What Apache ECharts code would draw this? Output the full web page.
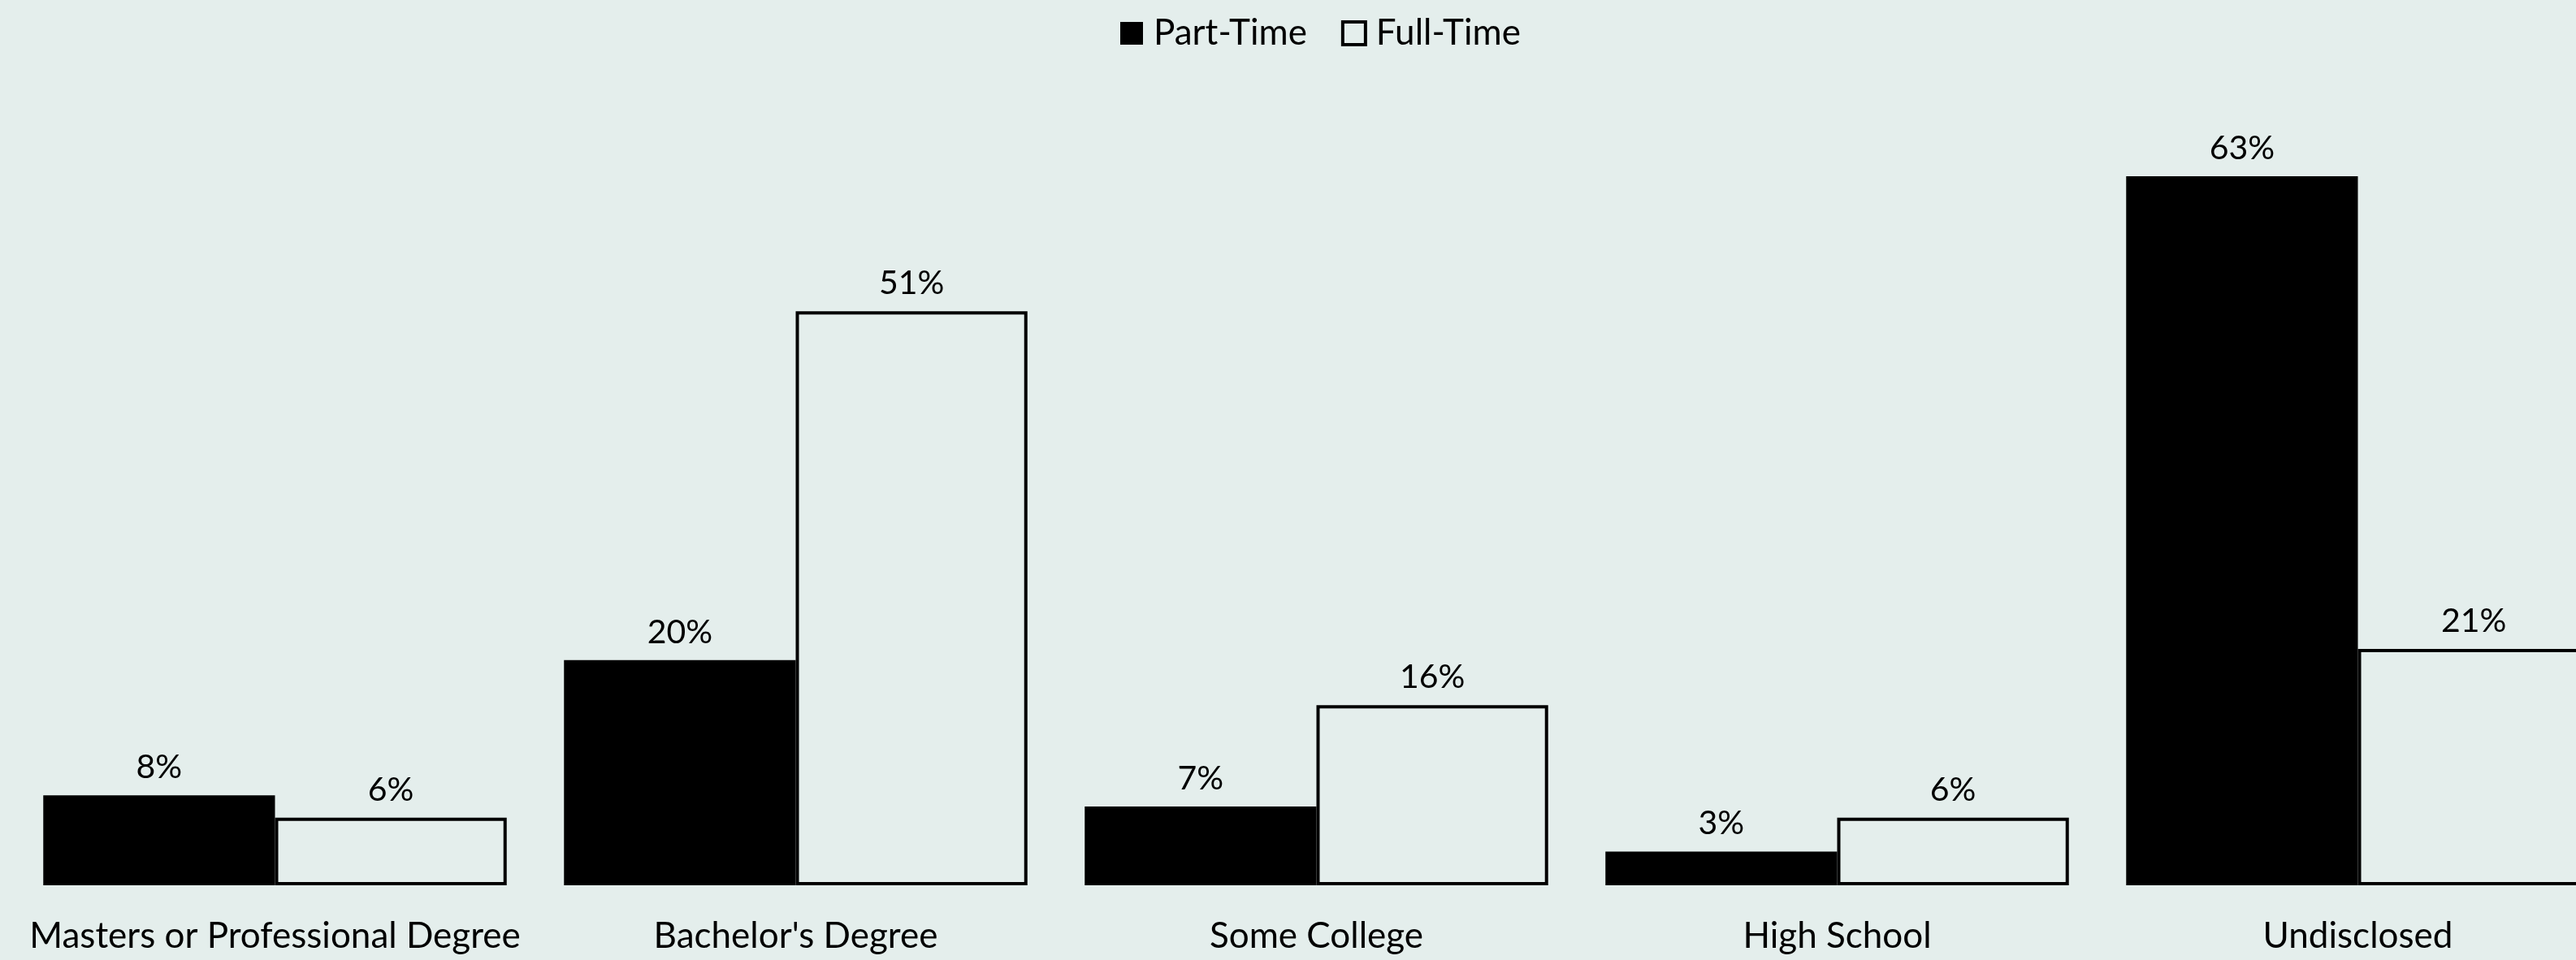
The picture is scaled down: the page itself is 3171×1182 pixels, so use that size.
<!DOCTYPE html>
<html>
<head>
<meta charset="utf-8">
<script src="https://cdn.jsdelivr.net/npm/echarts@6/dist/echarts.min.js"></script>
<style>
  html, body { margin: 0; padding: 0; background: #e4eeec; }
  #chart { width: 3171px; height: 1182px; }
</style>
</head>
<body>
<div id="chart"></div>
<script>
// categories and values (percent)
var categories = ["Masters or Professional Degree", "Bachelor's Degree", "Some College", "High School", "Undisclosed"];
var partTime = [8, 20, 7, 3, 63];
var fullTime = [6, 51, 16, 6, 21];

var chart = echarts.init(document.getElementById("chart"));
var font = "Lato, 'Open Sans', sans-serif";

var option = {
  backgroundColor: "#e4eeec",
  animation: false,
  legend: {
    top: 14,
    left: 1374,
    itemWidth: 28,
    itemHeight: 28,
    itemGap: 42,
    icon: "rect",
    textStyle: { fontFamily: font, fontSize: 44, color: "#000", padding: [0, 0, 0, 8] },
    data: [
      { name: "Part-Time" },
      { name: "Full-Time", itemStyle: { borderWidth: 4, borderColor: "#000" } },
    ],
  },
  grid: {
    left: 18,
    right: -52,
    top: 120,
    bottom: 92,
    outerBoundsMode: "none",
    containLabel: false,
  },
  xAxis: {
    type: "category",
    data: categories,
    axisLine: { show: false },
    axisTick: { show: false },
    axisLabel: {
      fontFamily: font,
      fontSize: 44,
      color: "#000",
      margin: 41,
      interval: 0,
    },
  },
  yAxis: {
    type: "value",
    min: 0,
    max: 70,
    show: false,
    splitLine: { show: false },
  },
  series: [
    {
      name: "Part-Time",
      type: "bar",
      data: partTime,
      barGap: "0%",
      barCategoryGap: "11%",
      itemStyle: { color: "#000", borderColor: "#000", borderWidth: 0 },
      label: {
        show: true,
        position: "top",
        distance: 14,
        formatter: "{c}%",
        fontFamily: font,
        fontSize: 41,
        color: "#000",
      },
    },
    {
      name: "Full-Time",
      type: "bar",
      data: fullTime,
      barGap: "0%",
      barCategoryGap: "11%",
      itemStyle: { color: "#e4eeec", borderColor: "#000", borderWidth: 4 },
      label: {
        show: true,
        position: "top",
        distance: 14,
        formatter: "{c}%",
        fontFamily: font,
        fontSize: 41,
        color: "#000",
      },
    },
  ],
};

chart.setOption(option);
</script>
</body>
</html>
